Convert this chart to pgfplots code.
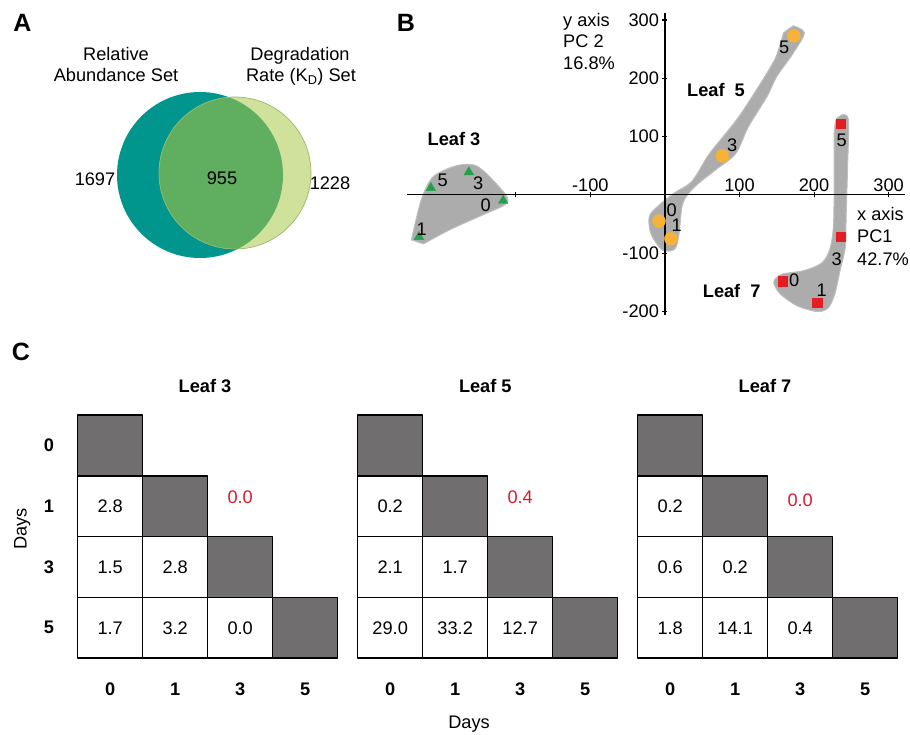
\documentclass[border=0pt]{standalone}
\usepackage{fontspec}
\setmainfont{Liberation Sans}
\setsansfont{Liberation Sans}
\usepackage{pgfplots}
\pgfplotsset{compat=1.18}
\usepackage{pgfplotstable}
\usepgfplotslibrary{patchplots}

\definecolor{vteal}{RGB}{0,150,142}
\definecolor{vlight}{RGB}{207,225,155}
\definecolor{vlightedge}{RGB}{150,185,110}
\definecolor{voverlap}{RGB}{96,174,96}
\definecolor{hullgray}{RGB}{172,172,172}
\definecolor{hulledge}{RGB}{190,190,190}
\definecolor{lthree}{RGB}{35,160,75}
\definecolor{lfive}{RGB}{247,178,55}
\definecolor{lseven}{RGB}{228,28,36}
\definecolor{redtxt}{RGB}{220,25,45}

\newcommand\fs{\fontsize{18.2}{21.5}\selectfont}

% ---------------- data ----------------
\pgfplotstableread{
x y
-314 12
-263 39
-217 -10
-330 -72
}\leafthree
\pgfplotstableread{
x y
173 273
77 67
-8 -45
8 -75
}\leaffive
\pgfplotstableread{
x y
236 122
236 -72
158 -148
204 -185
}\leafseven
\pgfplotstableread{
x y
-340 -77
-327 -9
-311 31
-280 50
-255 51
-235 31
-212 -3
-215 -17
-244 -34
-289 -60
-324 -84
}\hullthree
\pgfplotstableread{
x y
172 290
187 278
172 243
150 203
137 169
112 117
95 71
68 43
40 14
24 -14
19 -66
13 -93
-4 -94
-19 -66
-21 -37
-10 -20
12 3
36 23
57 66
71 89
99 134
131 197
149 237
159 278
}\hullfive
\pgfplotstableread{
x y
237 137
246 129
245 49
243 -37
242 -89
235 -129
228 -169
219 -194
204 -200
177 -190
154 -169
146 -149
157 -136
186 -130
210 -117
221 -94
226 -54
227 20
227 106
230 131
}\hullseven
% cells: rectangles, c=1 diagonal (gray), c=0 white
\pgfplotstableread{
x y c
0 3 1
1 3 1
1 4 1
0 4 1
1 2 1
2 2 1
2 3 1
1 3 1
2 1 1
3 1 1
3 2 1
2 2 1
3 0 1
4 0 1
4 1 1
3 1 1
0 2 0
1 2 0
1 3 0
0 3 0
0 1 0
1 1 0
1 2 0
0 2 0
1 1 0
2 1 0
2 2 0
1 2 0
0 0 0
1 0 0
1 1 0
0 1 0
1 0 0
2 0 0
2 1 0
1 1 0
2 0 0
3 0 0
3 1 0
2 1 0
}\celltab
\pgfplotstableread{
x y v
0.5 2.5 2.8
0.5 1.5 1.5
1.5 1.5 2.8
0.5 0.5 1.7
1.5 0.5 3.2
2.5 0.5 0.0
}\vthree
\pgfplotstableread{
x y v
0.5 2.5 0.2
0.5 1.5 2.1
1.5 1.5 1.7
0.5 0.5 29.0
1.5 0.5 33.2
2.5 0.5 12.7
}\vfive
\pgfplotstableread{
x y v
0.5 2.5 0.2
0.5 1.5 0.6
1.5 1.5 0.2
0.5 0.5 1.8
1.5 0.5 14.1
2.5 0.5 0.4
}\vseven

\pgfplotsset{
  cgrid/.style={anchor=north west, x=65pt, y=60.8pt, xmin=0, xmax=4, ymin=0, ymax=4,
    axis lines=left, axis line style={draw=none,-}, tick style={draw=none},
    xtick={0.5,1.5,2.5,3.5}, xticklabels={\textbf{0},\textbf{1},\textbf{3},\textbf{5}},
    xticklabel style={font=\fs, yshift=-19pt},
    ytick=\empty, clip=false,
    colormap={cellmap}{rgb255=(255,255,255) rgb255=(112,110,110)},
    point meta min=0, point meta max=1},
  mycells/.style={patch, patch type=rectangle, shader=faceted, faceted color=black,
    line width=1.5pt},
  myvals/.style={only marks, mark=none, nodes near coords, point meta=explicit symbolic,
    nodes near coords style={anchor=center, font=\fs, text=black}},
  myred/.style={only marks, mark=none, nodes near coords, point meta=explicit symbolic,
    nodes near coords style={anchor=center, font=\fs, text=redtxt}},
}

\begin{document}
\begin{tikzpicture}[font=\fs]
\useasboundingbox (0,0) rectangle (910pt,-734pt);

% ---------------- A: Venn ----------------
\begin{axis}[at={(0pt,0pt)}, anchor=north west, x=1pt, y=1pt,
  xmin=0, xmax=910, ymin=0, ymax=734, y dir=reverse, hide axis, clip=false]
  \fill[vteal] (axis cs:200,175) circle[radius=83pt];
  \fill[vlight] (axis cs:235,173) circle[radius=76pt];
  \begin{scope}
    \clip (axis cs:200,175) circle[radius=83pt];
    \fill[voverlap] (axis cs:235,173) circle[radius=76pt];
  \end{scope}
  \draw[vlightedge, line width=0.7pt] (axis cs:235,173) circle[radius=76pt];
\end{axis}

% ---------------- B: PCA ----------------
\begin{axis}[at={(407pt,-315pt)}, anchor=south west, x=0.7455pt, y=0.583pt,
  xmin=-346, xmax=322, ymin=-206, ymax=312,
  axis lines=middle, axis line style={-, line width=1.1pt}, axis on top, clip=false,
  xtick={-200,-100,100,200,300}, xticklabels={,-100,100,200,300},
  ytick={-200,-100,100,200,300}, yticklabels={-200,-100,100,200,300},
  xticklabel style={anchor=south, font=\fs, yshift=2pt},
  yticklabel style={font=\fs},
  major tick length=5pt, tick style={line width=1.1pt, black}]
  \addplot[fill=hullgray, draw=hulledge, line width=1pt, smooth] table {\hullthree} -- cycle;
  \addplot[fill=hullgray, draw=hulledge, line width=1pt, smooth] table {\hullfive} -- cycle;
  \addplot[fill=hullgray, draw=hulledge, line width=1pt, smooth] table {\hullseven} -- cycle;
  \addplot[only marks, mark=triangle*, mark size=5.5pt, color=lthree] table {\leafthree};
  \addplot[only marks, mark=*, mark size=6.5pt, color=lfive] table {\leaffive};
  \addplot[only marks, mark=square*, mark size=4.8pt, color=lseven] table {\leafseven};
\end{axis}

% ---------------- C: grids ----------------
\begin{axis}[cgrid, at={(77.7pt,-415pt)},
  ytick={0.5,1.5,2.5,3.5}, yticklabels={\textbf{5},\textbf{3},\textbf{1},\textbf{0}},
  yticklabel style={font=\fs, xshift=-18pt}]
  \addplot[mycells] table[point meta=\thisrow{c}] {\celltab};
  \addplot[myvals] table[meta=v] {\vthree};
  \addplot[myred] coordinates {(2.5,2.65) [0.0]};
\end{axis}
\begin{axis}[cgrid, at={(357.7pt,-415pt)}]
  \addplot[mycells] table[point meta=\thisrow{c}] {\celltab};
  \addplot[myvals] table[meta=v] {\vfive};
  \addplot[myred] coordinates {(2.5,2.65) [0.4]};
\end{axis}
\begin{axis}[cgrid, at={(637.7pt,-415pt)}]
  \addplot[mycells] table[point meta=\thisrow{c}] {\celltab};
  \addplot[myvals] table[meta=v] {\vseven};
  \addplot[myred] coordinates {(2.5,2.6) [0.0]};
\end{axis}

% ---------------- texts ----------------
\tikzset{big/.style={font=\fontsize{25}{30}\selectfont\bfseries, anchor=base}}
\node[big] at (22.5pt,-31.7pt) {A};
\node[big] at (405.8pt,-31.7pt) {B};
\node[big] at (20.8pt,-360pt) {C};

\node[anchor=base] at (116pt,-60pt) {Relative};
\node[anchor=base] at (116pt,-81.7pt) {Abundance Set};
\node[anchor=base] at (300pt,-60pt) {Degradation};
\node[anchor=base] at (301pt,-81.7pt) {Rate (K\textsubscript{D}) Set};
\node[anchor=base] at (95pt,-185pt) {1697};
\node[anchor=base] at (222pt,-184.3pt) {955};
\node[anchor=base] at (330pt,-189.3pt) {1228};

\node[anchor=base west, inner sep=0pt] at (563pt,-26pt) {y axis};
\node[anchor=base west, inner sep=0pt] at (563pt,-47pt) {PC 2};
\node[anchor=base west, inner sep=0pt] at (563pt,-69pt) {16.8\%};
\node[anchor=base west, inner sep=0pt] at (857pt,-220.7pt) {x axis};
\node[anchor=base west, inner sep=0pt] at (857pt,-242pt) {PC1};
\node[anchor=base west, inner sep=0pt] at (857pt,-265pt) {42.7\%};

\node[anchor=base, font=\fs\bfseries] at (454pt,-145.7pt) {Leaf 3};
\node[anchor=base, font=\fs\bfseries] at (716pt,-96.7pt) {Leaf\ \ 5};
\node[anchor=base, font=\fs\bfseries] at (731.7pt,-297.3pt) {Leaf\ \ 7};

\node[anchor=base] at (442.7pt,-186.7pt) {5};
\node[anchor=base] at (478.3pt,-189.3pt) {3};
\node[anchor=base] at (485.7pt,-211.7pt) {0};
\node[anchor=base] at (421.7pt,-235pt) {1};
\node[anchor=base] at (784.3pt,-53.3pt) {5};
\node[anchor=base] at (732.3pt,-151.7pt) {3};
\node[anchor=base] at (671.7pt,-216pt) {0};
\node[anchor=base] at (676.7pt,-231.7pt) {1};
\node[anchor=base] at (841.7pt,-146.7pt) {5};
\node[anchor=base] at (836.7pt,-265pt) {3};
\node[anchor=base] at (794.3pt,-286pt) {0};
\node[anchor=base] at (821.7pt,-296pt) {1};

\node[anchor=base, font=\fs\bfseries] at (205pt,-392.3pt) {Leaf 3};
\node[anchor=base, font=\fs\bfseries] at (485.3pt,-392.3pt) {Leaf 5};
\node[anchor=base, font=\fs\bfseries] at (765pt,-392.3pt) {Leaf 7};
\node[anchor=base] at (469pt,-728pt) {Days};
\node[anchor=base, rotate=90] at (26.7pt,-529pt) {Days};
\end{tikzpicture}
\end{document}
